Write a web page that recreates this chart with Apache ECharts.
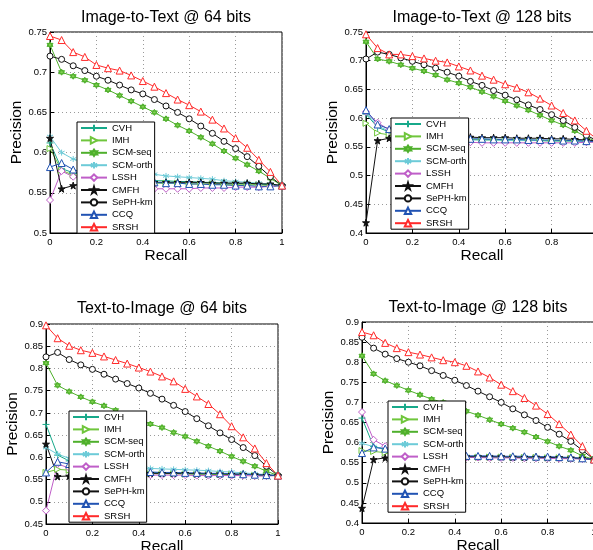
<!DOCTYPE html>
<html>
<head>
<meta charset="utf-8">
<script src="https://cdn.jsdelivr.net/npm/echarts@6/dist/echarts.min.js"></script>
<style>
  html, body { margin: 0; background: #fff; }
  #main { width: 593px; height: 550px; }
</style>
</head>
<body>
<div id="main"></div>
<script>
  // recall points (x) shared by every curve
  const recall = [0, 0.05, 0.1, 0.15, 0.2, 0.25, 0.3, 0.35, 0.4, 0.45, 0.5,
                  0.55, 0.6, 0.65, 0.7, 0.75, 0.8, 0.85, 0.9, 0.95, 1]
  const methods = ['CVH', 'IMH', 'SCM-seq', 'SCM-orth', 'LSSH', 'CMFH', 'SePH-km', 'CCQ', 'SRSH']

  // Image-to-Text @ 64 bits
  const i2t64_CVH     = [0.612,0.580,0.575,0.572,0.570,0.568,0.567,0.566,0.566,0.565,0.565,0.564,0.564,0.563,0.563,0.562,0.562,0.561,0.561,0.560,0.559]
  const i2t64_IMH     = [0.605,0.578,0.572,0.568,0.566,0.565,0.564,0.563,0.563,0.562,0.562,0.562,0.561,0.561,0.561,0.560,0.560,0.560,0.560,0.559,0.559]
  const i2t64_SCMseq  = [0.734,0.700,0.695,0.690,0.684,0.678,0.671,0.664,0.657,0.650,0.642,0.634,0.627,0.619,0.611,0.602,0.593,0.585,0.577,0.568,0.559]
  const i2t64_SCMorth = [0.620,0.600,0.592,0.588,0.584,0.580,0.578,0.576,0.574,0.573,0.571,0.570,0.569,0.568,0.567,0.565,0.564,0.563,0.562,0.561,0.559]
  const i2t64_LSSH    = [0.541,0.577,0.570,0.566,0.562,0.559,0.557,0.556,0.556,0.555,0.555,0.555,0.555,0.556,0.556,0.556,0.557,0.557,0.557,0.558,0.559]
  const i2t64_CMFH    = [0.618,0.555,0.559,0.562,0.563,0.563,0.563,0.563,0.563,0.563,0.563,0.563,0.563,0.563,0.562,0.562,0.562,0.562,0.561,0.561,0.559]
  const i2t64_SePH    = [0.720,0.716,0.708,0.702,0.695,0.690,0.684,0.678,0.673,0.666,0.658,0.650,0.642,0.633,0.624,0.614,0.605,0.595,0.583,0.570,0.559]
  const i2t64_CCQ     = [0.582,0.587,0.579,0.574,0.570,0.567,0.565,0.564,0.563,0.563,0.562,0.562,0.561,0.561,0.560,0.560,0.559,0.559,0.558,0.558,0.559]
  const i2t64_SRSH    = [0.745,0.740,0.725,0.719,0.709,0.705,0.702,0.696,0.689,0.682,0.674,0.666,0.659,0.651,0.641,0.630,0.618,0.606,0.591,0.576,0.559]

  // Image-to-Text @ 128 bits
  const i2t128_CVH     = [0.607,0.584,0.576,0.571,0.568,0.566,0.565,0.564,0.564,0.563,0.563,0.563,0.562,0.562,0.562,0.561,0.561,0.561,0.560,0.560,0.559]
  const i2t128_IMH     = [0.591,0.574,0.571,0.568,0.566,0.565,0.564,0.563,0.563,0.563,0.562,0.562,0.562,0.561,0.561,0.561,0.560,0.560,0.560,0.559,0.559]
  const i2t128_SCMseq  = [0.733,0.703,0.699,0.693,0.687,0.682,0.675,0.667,0.661,0.654,0.646,0.638,0.630,0.622,0.614,0.605,0.596,0.588,0.578,0.567,0.558]
  const i2t128_SCMorth = [0.610,0.586,0.578,0.572,0.568,0.566,0.564,0.563,0.563,0.562,0.562,0.562,0.561,0.561,0.561,0.561,0.560,0.560,0.560,0.559,0.559]
  const i2t128_LSSH    = [0.611,0.592,0.580,0.572,0.566,0.562,0.560,0.559,0.558,0.558,0.557,0.557,0.557,0.557,0.557,0.557,0.557,0.557,0.557,0.558,0.558]
  const i2t128_CMFH    = [0.418,0.561,0.565,0.566,0.567,0.567,0.567,0.567,0.567,0.567,0.566,0.566,0.566,0.565,0.565,0.565,0.564,0.564,0.563,0.562,0.560]
  const i2t128_SePH    = [0.703,0.715,0.711,0.705,0.699,0.693,0.687,0.680,0.673,0.664,0.657,0.648,0.640,0.632,0.623,0.615,0.606,0.596,0.584,0.570,0.560]
  const i2t128_CCQ     = [0.614,0.589,0.581,0.574,0.570,0.567,0.566,0.565,0.564,0.564,0.564,0.563,0.563,0.563,0.562,0.562,0.562,0.561,0.561,0.560,0.559]
  const i2t128_SRSH    = [0.746,0.722,0.711,0.711,0.708,0.704,0.700,0.697,0.690,0.683,0.674,0.667,0.659,0.653,0.645,0.634,0.622,0.609,0.596,0.578,0.562]

  // Text-to-Image @ 64 bits
  const t2i64_CVH     = [0.674,0.605,0.592,0.582,0.576,0.572,0.570,0.568,0.567,0.566,0.565,0.565,0.564,0.564,0.563,0.563,0.562,0.562,0.561,0.560,0.559]
  const t2i64_IMH     = [0.566,0.573,0.571,0.569,0.567,0.566,0.565,0.564,0.564,0.563,0.563,0.563,0.562,0.562,0.562,0.561,0.561,0.561,0.560,0.560,0.559]
  const t2i64_SCMseq  = [0.812,0.762,0.748,0.736,0.725,0.716,0.706,0.695,0.685,0.675,0.667,0.656,0.647,0.636,0.625,0.614,0.602,0.591,0.580,0.569,0.559]
  const t2i64_SCMorth = [0.622,0.607,0.598,0.590,0.585,0.582,0.580,0.578,0.576,0.575,0.574,0.573,0.572,0.571,0.570,0.568,0.567,0.565,0.563,0.561,0.559]
  const t2i64_LSSH    = [0.480,0.585,0.576,0.569,0.565,0.563,0.562,0.561,0.561,0.560,0.560,0.560,0.560,0.559,0.559,0.559,0.559,0.559,0.558,0.558,0.559]
  const t2i64_CMFH    = [0.630,0.557,0.558,0.562,0.563,0.564,0.564,0.564,0.564,0.564,0.564,0.564,0.564,0.563,0.563,0.563,0.562,0.562,0.561,0.560,0.559]
  const t2i64_SePH    = [0.826,0.836,0.820,0.808,0.798,0.787,0.776,0.766,0.756,0.744,0.731,0.717,0.703,0.687,0.671,0.655,0.640,0.622,0.604,0.580,0.559]
  const t2i64_CCQ     = [0.566,0.590,0.585,0.578,0.574,0.571,0.569,0.568,0.567,0.567,0.566,0.566,0.565,0.565,0.564,0.564,0.563,0.562,0.561,0.560,0.559]
  const t2i64_SRSH    = [0.897,0.868,0.851,0.841,0.835,0.827,0.819,0.811,0.802,0.793,0.782,0.771,0.754,0.737,0.720,0.697,0.670,0.645,0.620,0.587,0.559]

  // Text-to-Image @ 128 bits
  const t2i128_CVH     = [0.661,0.590,0.584,0.577,0.572,0.569,0.567,0.566,0.565,0.565,0.564,0.564,0.563,0.563,0.563,0.562,0.562,0.561,0.561,0.560,0.558]
  const t2i128_IMH     = [0.580,0.578,0.575,0.572,0.570,0.568,0.567,0.566,0.565,0.565,0.564,0.564,0.564,0.563,0.563,0.563,0.562,0.562,0.561,0.560,0.558]
  const t2i128_SCMseq  = [0.816,0.771,0.754,0.742,0.730,0.719,0.708,0.700,0.689,0.678,0.668,0.657,0.646,0.636,0.626,0.614,0.603,0.591,0.581,0.567,0.558]
  const t2i128_SCMorth = [0.598,0.590,0.584,0.578,0.574,0.571,0.569,0.568,0.567,0.566,0.566,0.565,0.565,0.564,0.564,0.563,0.563,0.562,0.561,0.560,0.558]
  const t2i128_LSSH    = [0.676,0.607,0.591,0.580,0.573,0.569,0.567,0.565,0.564,0.563,0.563,0.562,0.562,0.562,0.561,0.561,0.561,0.560,0.560,0.559,0.558]
  const t2i128_CMFH    = [0.437,0.558,0.562,0.564,0.565,0.565,0.565,0.565,0.565,0.565,0.565,0.565,0.565,0.564,0.564,0.564,0.563,0.563,0.562,0.561,0.558]
  const t2i128_SePH    = [0.862,0.835,0.820,0.809,0.800,0.791,0.779,0.767,0.755,0.742,0.728,0.714,0.700,0.684,0.669,0.655,0.638,0.621,0.603,0.581,0.558]
  const t2i128_CCQ     = [0.574,0.588,0.585,0.576,0.572,0.570,0.569,0.568,0.568,0.567,0.567,0.567,0.566,0.566,0.566,0.565,0.565,0.564,0.563,0.561,0.558]
  const t2i128_SRSH    = [0.875,0.867,0.848,0.835,0.825,0.819,0.812,0.805,0.800,0.791,0.777,0.762,0.744,0.728,0.711,0.692,0.671,0.646,0.620,0.591,0.558]

  // matlab-like marker shapes
  const PLUS = 'path://M4,0L4,8M0,4L8,4'
  const ASTER = 'path://M4,0L4,8M0.5,2L7.5,6M0.5,6L7.5,2'
  const HEXA = 'path://M5,0L9.33,7.5L0.67,7.5Z M5,10L0.67,2.5L9.33,2.5Z'
  const PENTA = 'path://M50,0L61,35L98,35L68,57L79,91L50,70L21,91L32,57L2,35L39,35Z'

  const styles = {
    'CVH':      { color: '#17a98a', fill: '#17a98a', symbol: PLUS, size: 7 },
    'IMH':      { color: '#6fc63c', fill: '#fff', symbol: 'triangle', size: 6, rotate: -90 },
    'SCM-seq':  { color: '#4fb02c', fill: '#7fcf50', symbol: HEXA, size: 6 },
    'SCM-orth': { color: '#6dcbd8', fill: '#6dcbd8', symbol: ASTER, size: 6 },
    'LSSH':     { color: '#bf5ec8', fill: '#fff', symbol: 'diamond', size: 7 },
    'CMFH':     { color: '#111', fill: '#111', symbol: PENTA, size: 7 },
    'SePH-km':  { color: '#111', fill: '#fff', symbol: 'circle', size: 6 },
    'CCQ':      { color: '#2153b3', fill: '#fff', symbol: 'triangle', size: 7 },
    'SRSH':     { color: '#ff2a2a', fill: '#fff', symbol: 'triangle', size: 7 }
  }

  const panels = [
    { title: 'Image-to-Text @ 64 bits', grid: { left: 50, top: 32, width: 232, height: 201 }, yMin: 0.5, yMax: 0.75,
      titlePos: [166, 18], legendPos: [77, 122], yGap: 22, xGap: 14,
      data: [i2t64_CVH, i2t64_IMH, i2t64_SCMseq, i2t64_SCMorth, i2t64_LSSH, i2t64_CMFH, i2t64_SePH, i2t64_CCQ, i2t64_SRSH] },
    { title: 'Image-to-Text @ 128 bits', grid: { left: 366, top: 32, width: 232, height: 201 }, yMin: 0.4, yMax: 0.75,
      titlePos: [482, 18], legendPos: [391, 118], yGap: 24, xGap: 14,
      data: [i2t128_CVH, i2t128_IMH, i2t128_SCMseq, i2t128_SCMorth, i2t128_LSSH, i2t128_CMFH, i2t128_SePH, i2t128_CCQ, i2t128_SRSH] },
    { title: 'Text-to-Image @ 64 bits', grid: { left: 46, top: 324, width: 232, height: 200 }, yMin: 0.45, yMax: 0.9,
      titlePos: [162, 309], legendPos: [69, 411], yGap: 24, xGap: 11,
      data: [t2i64_CVH, t2i64_IMH, t2i64_SCMseq, t2i64_SCMorth, t2i64_LSSH, t2i64_CMFH, t2i64_SePH, t2i64_CCQ, t2i64_SRSH] },
    { title: 'Text-to-Image @ 128 bits', grid: { left: 362, top: 322, width: 232, height: 201 }, yMin: 0.4, yMax: 0.9,
      titlePos: [478, 308], legendPos: [388, 401], yGap: 24, xGap: 12,
      data: [t2i128_CVH, t2i128_IMH, t2i128_SCMseq, t2i128_SCMorth, t2i128_LSSH, t2i128_CMFH, t2i128_SePH, t2i128_CCQ, t2i128_SRSH] }
  ]

  const FONT = '"Liberation Sans", Arial, sans-serif'
  const grids = [], xAxes = [], yAxes = [], series = [], legends = [], texts = []

  panels.forEach((p, pi) => {
    grids.push(Object.assign({ show: true, borderColor: '#000', borderWidth: 1, backgroundColor: '#fff',
      outerBoundsMode: 'none', containLabel: false }, p.grid))
    xAxes.push({
      gridIndex: pi, type: 'value', min: 0, max: 1, interval: 0.2,
      name: 'Recall', nameLocation: 'middle', nameGap: p.xGap,
      nameTextStyle: { fontSize: 15.5, color: '#000', fontFamily: FONT },
      axisLine: { onZero: false, lineStyle: { color: '#000', width: 1 } },
      axisTick: { inside: true, length: 4, lineStyle: { color: '#000' } },
      axisLabel: { fontSize: 9.5, color: '#000', margin: 4, fontFamily: FONT },
      splitLine: { show: true, lineStyle: { type: [1, 3], color: '#9a9a9a' } }
    })
    yAxes.push({
      gridIndex: pi, type: 'value', min: p.yMin, max: p.yMax, interval: 0.05,
      name: 'Precision', nameLocation: 'middle', nameGap: p.yGap,
      nameTextStyle: { fontSize: 15.5, color: '#000', fontFamily: FONT },
      axisLine: { onZero: false, lineStyle: { color: '#000', width: 1 } },
      axisTick: { inside: true, length: 4, lineStyle: { color: '#000' } },
      axisLabel: { fontSize: 9.5, color: '#000', margin: 3, fontFamily: FONT },
      splitLine: { show: true, lineStyle: { type: [1, 3], color: '#9a9a9a' } }
    })
    methods.forEach((m, mi) => {
      const st = styles[m]
      series.push({
        name: m, type: 'line', xAxisIndex: pi, yAxisIndex: pi,
        data: recall.map((r, i) => [r, p.data[mi][i]]),
        symbol: st.symbol, symbolSize: st.size, symbolRotate: st.rotate || 0,
        showAllSymbol: true, clip: true,
        lineStyle: { color: st.color, width: 1 },
        itemStyle: { color: st.fill, borderColor: st.color, borderWidth: 1 },
        emphasis: { disabled: true }
      })
    })
    legends.push({
      data: methods, orient: 'vertical', left: p.legendPos[0], top: p.legendPos[1],
      itemWidth: 26, itemHeight: 8, itemGap: 2.4,
      padding: [1, 2, 1, 3], backgroundColor: '#fff', borderColor: '#000', borderWidth: 1,
      textStyle: { fontSize: 9.5, color: '#000', fontFamily: FONT },
      selectedMode: false
    })
    texts.push({
      type: 'text', x: p.titlePos[0], y: p.titlePos[1],
      style: { text: p.title, fill: '#000', font: '16px ' + FONT, textAlign: 'center', textVerticalAlign: 'middle' }
    })
  })

  const chart = echarts.init(document.getElementById('main'))
  chart.setOption({
    animation: false,
    backgroundColor: '#fff',
    textStyle: { fontFamily: FONT },
    grid: grids,
    xAxis: xAxes,
    yAxis: yAxes,
    legend: legends,
    graphic: texts,
    series: series
  })
</script>
</body>
</html>
